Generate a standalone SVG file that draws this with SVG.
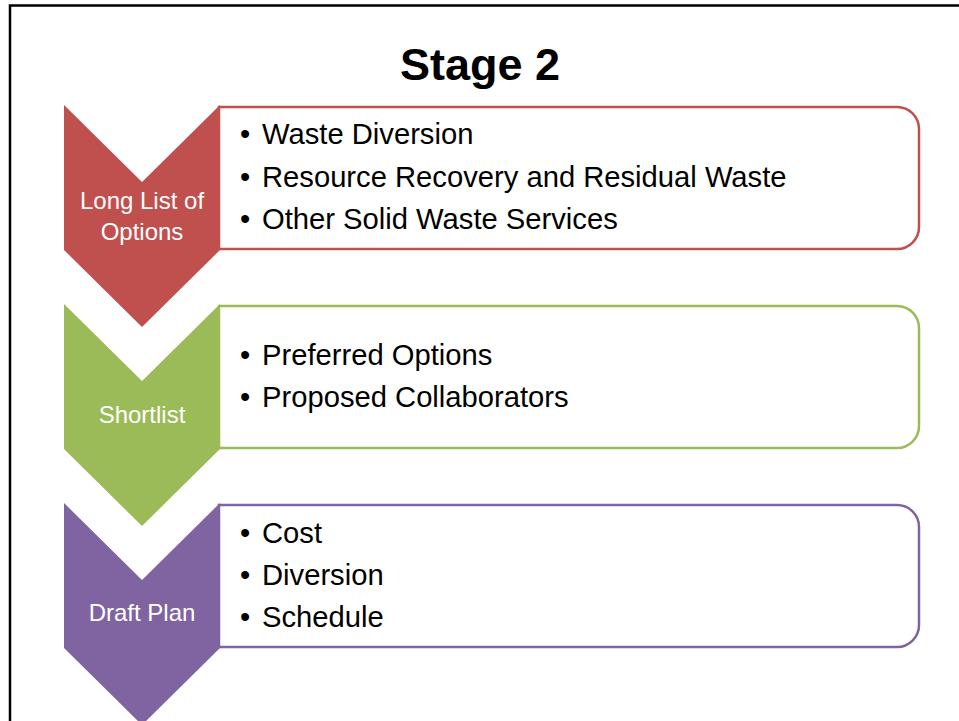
<svg xmlns="http://www.w3.org/2000/svg" width="959" height="721" viewBox="0 0 959 721">
<style>
.title{font-family:"Liberation Sans",Arial,sans-serif;font-weight:bold;font-size:45px;fill:#000}
.lbl{font-family:"Liberation Sans",Arial,sans-serif;font-size:24px;fill:#fff}
.item{font-family:"Liberation Sans",Arial,sans-serif;font-size:29.2px;fill:#000}
.box{fill:#fff;stroke-width:2.5}
</style>
<rect x="0" y="0" width="959" height="721" fill="#fff"/>
<rect x="10" y="5.5" width="1000" height="800" fill="none" stroke="#000" stroke-width="2.5"/>
<text class="title" x="480" y="80" text-anchor="middle">Stage 2</text>
<g id="stage-long-list">
<path class="box" d="M219,107 H897 A22,22 0 0 1 919,129 V227 A22,22 0 0 1 897,249 H219 Z" stroke="#C0504D"/>
<polygon points="64,105 142,182 220,105 220,250 142,327 64,250" fill="#C0504D"/>
<text class="lbl" x="142" y="209" text-anchor="middle">Long List of</text>
<text class="lbl" x="142" y="240" text-anchor="middle">Options</text>
<text class="item" x="240" y="144">•</text><text class="item" x="262" y="144">Waste Diversion</text>
<text class="item" x="240" y="187">•</text><text class="item" x="262" y="187">Resource Recovery and Residual Waste</text>
<text class="item" x="240" y="229">•</text><text class="item" x="262" y="229">Other Solid Waste Services</text>
</g>
<g id="stage-shortlist">
<path class="box" d="M219,306 H897 A22,22 0 0 1 919,328 V426 A22,22 0 0 1 897,448 H219 Z" stroke="#9BBB59"/>
<polygon points="64,304 142,381 220,304 220,449 142,526 64,449" fill="#9BBB59"/>
<text class="lbl" x="142" y="423" text-anchor="middle">Shortlist</text>
<text class="item" x="240" y="365">•</text><text class="item" x="262" y="365">Preferred Options</text>
<text class="item" x="240" y="407">•</text><text class="item" x="262" y="407">Proposed Collaborators</text>
</g>
<g id="stage-draft-plan">
<path class="box" d="M219,505 H897 A22,22 0 0 1 919,527 V625 A22,22 0 0 1 897,647 H219 Z" stroke="#8064A2"/>
<polygon points="64,503 142,580 220,503 220,648 142,725 64,648" fill="#8064A2"/>
<text class="lbl" x="142" y="621" text-anchor="middle">Draft Plan</text>
<text class="item" x="240" y="543">•</text><text class="item" x="262" y="543">Cost</text>
<text class="item" x="240" y="585">•</text><text class="item" x="262" y="585">Diversion</text>
<text class="item" x="240" y="627">•</text><text class="item" x="262" y="627">Schedule</text>
</g>
<g id="connectors"></g>
</svg>
